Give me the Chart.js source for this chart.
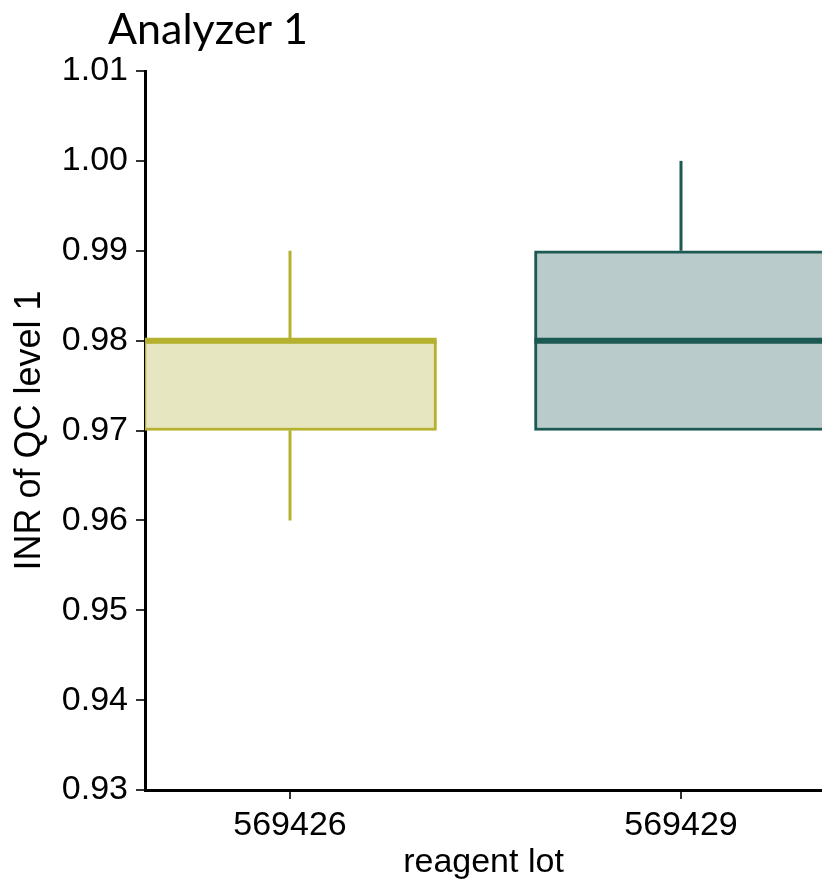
<!DOCTYPE html>
<html>
<head>
<meta charset="utf-8">
<script src="https://cdn.jsdelivr.net/npm/chart.js@4"></script>
<style>
  html, body { margin: 0; padding: 0; background: #fff; }
  #wrap { width: 822px; height: 883px; }
</style>
</head>
<body>
<div id="wrap"><canvas id="boxChart"></canvas></div>
<script>
// reagent lots and box statistics (INR of QC level 1)
const lots = ['569426', '569429'];
const lotPos = [1, 2];
const whiskerLow = [0.96, 0.97];
const q1 = [0.97, 0.97];
const median = [0.98, 0.98];
const q3 = [0.98, 0.99];
const whiskerHigh = [0.99, 1.00];
const yTicks = [0.93, 0.94, 0.95, 0.96, 0.97, 0.98, 0.99, 1.00, 1.01];

const strokeColors = ['#b3b12e', '#1b5952'];
const fillColors = ['#e6e6c1', '#b9cbcb'];
const boxWidth = 0.75; // in x units

const tickFont = { family: 'Liberation Sans, Arial, sans-serif', size: 34 };

// build datasets from the arrays
const datasets = [];
lots.forEach(function(lot, i) {
  // whiskers
  datasets.push({
    type: 'line',
    data: [
      { x: lotPos[i], y: whiskerLow[i] }, { x: lotPos[i], y: q1[i] },
      { x: lotPos[i], y: null },
      { x: lotPos[i], y: q3[i] }, { x: lotPos[i], y: whiskerHigh[i] }
    ],
    borderColor: strokeColors[i],
    borderWidth: 3,
    pointRadius: 0,
    spanGaps: false,
    order: 3
  });
  // box
  datasets.push({
    type: 'bar',
    data: [{ x: lotPos[i], y: [q1[i], q3[i]] }],
    backgroundColor: fillColors[i],
    borderColor: strokeColors[i],
    borderWidth: 3,
    borderSkipped: false,
    grouped: false,
    barThickness: 293,
    order: 2
  });
  // median
  datasets.push({
    type: 'line',
    data: [
      { x: lotPos[i] - boxWidth / 2, y: median[i] },
      { x: lotPos[i] + boxWidth / 2, y: median[i] }
    ],
    borderColor: strokeColors[i],
    borderWidth: 6,
    pointRadius: 0,
    order: 1
  });
});

// title drawn at the top left
const titlePlugin = {
  id: 'panelTitle',
  afterDraw(chart) {
    const c = chart.ctx;
    c.save();
    c.font = '43px Lato, "Open Sans", sans-serif';
    c.fillStyle = '#000';
    c.textBaseline = 'alphabetic';
    c.fillText('Analyzer 1', 108, 44);
    c.restore();
  }
};

const ctx = document.getElementById('boxChart').getContext('2d');
new Chart(ctx, {
  type: 'bar',
  data: { datasets: datasets },
  options: {
    responsive: true,
    maintainAspectRatio: false,
    animation: false,
    layout: { padding: { top: 71, right: 0, left: 0, bottom: 0 } },
    plugins: {
      legend: { display: false },
      tooltip: { enabled: false }
    },
    scales: {
      x: {
        type: 'linear',
        offset: false,
        min: 1 - 145 / 391,
        max: 2 + 141 / 391,
        afterBuildTicks: function(scale) {
          scale.ticks = lotPos.map(v => ({ value: v }));
        },
        afterFit: function(scale) { scale.height = 93; },
        ticks: {
          color: '#000',
          font: tickFont,
          padding: 6,
          maxRotation: 0,
          callback: function(v) {
            const idx = lotPos.indexOf(v);
            return idx >= 0 ? lots[idx] : '';
          }
        },
        grid: { offset: false, drawOnChartArea: false, drawTicks: true, tickLength: 9, color: '#333', lineWidth: 2 },
        border: { display: true, color: '#000', width: 3 },
        title: { display: true, text: 'reagent lot', color: '#000', font: tickFont, padding: { top: 0, bottom: 0 } }
      },
      y: {
        min: 0.93,
        max: 1.01,
        afterBuildTicks: function(scale) {
          scale.ticks = yTicks.map(v => ({ value: v }));
        },
        afterFit: function(scale) { scale.width = 145; },
        ticks: {
          color: '#000',
          font: tickFont,
          padding: 8,
          callback: function(v) { return Number(v).toFixed(2); }
        },
        grid: { drawOnChartArea: false, drawTicks: true, tickLength: 9, color: '#333', lineWidth: 2 },
        border: { display: true, color: '#000', width: 3 },
        title: { display: true, text: 'INR of QC level 1', color: '#000', font: { family: tickFont.family, size: 36 }, padding: { top: 8, bottom: 0 } }
      }
    }
  },
  plugins: [titlePlugin]
});
</script>
</body>
</html>
